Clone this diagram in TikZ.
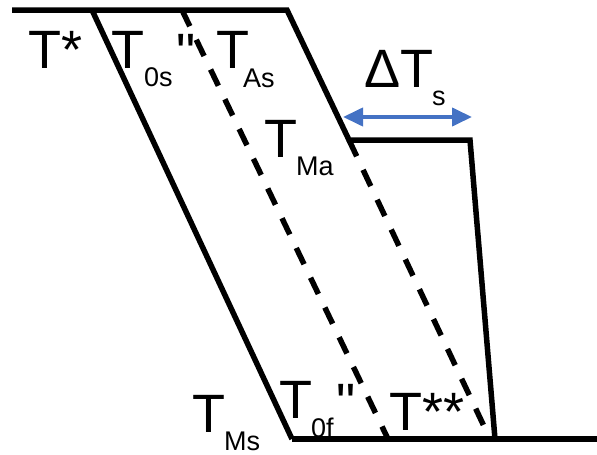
\documentclass[tikz,border=0pt]{standalone}
\usepackage{fontspec}
\setmainfont{Liberation Sans}
\newfontfamily\qfont[Ligatures=TeXOff]{Liberation Sans}
\usetikzlibrary{arrows.meta}
\definecolor{arrblue}{RGB}{68,114,196}
\begin{document}
\begin{tikzpicture}[x=1pt,y=-1pt,
  big/.style={anchor=base west,inner sep=0pt,font=\fontsize{54}{54}\selectfont},
  small/.style={anchor=base west,inner sep=0pt,font=\fontsize{27}{27}\selectfont},
  quote/.style={anchor=base west,inner sep=0pt,font=\qfont\fontsize{54}{54}\selectfont},
  solidline/.style={line width=5.5pt,line join=miter},
  dashline/.style={line width=5.5pt,dash pattern=on 18pt off 15pt}]
\useasboundingbox (0,0) rectangle (597,455);
% labels
\node[big] (tstar) at (28,68) {T*};
\node[big] (t0s) at (111,68) {T};
\node[small] (t0ss) at (144,86) {0s};
\node[quote] (q1) at (176,71) {"};
\node[big] (tas) at (216,68) {T};
\node[small] (tass) at (243,87) {As};
\node[big] (dts) at (364,87) {ΔT};
\node[small] (dtss) at (432,105) {s};
\node[big] (tma) at (264,157) {T};
\node[small] (tmas) at (296,175) {Ma};
\node[big] (tms) at (192,432) {T};
\node[small] (tmss) at (224,450) {Ms};
\node[big] (t0f) at (279,418) {T};
\node[small] (t0fs) at (311,437) {0f};
\node[quote] (q2) at (336,421) {"};
\node[big] (tss) at (389,430) {T**};
% coordinates
\coordinate (A) at (12,10);
\coordinate (B) at (92,10);
\coordinate (C) at (182,10);
\coordinate (D) at (287,10);
\coordinate (E) at (349,140);
\coordinate (F) at (470,140);
\coordinate (G) at (495,439);
\coordinate (H) at (292,439);
\coordinate (I) at (597,439);
\coordinate (J) at (388,439);
\coordinate (K) at (490,439);
\coordinate (L) at (343,117);
\coordinate (M) at (472,117);
% lines
\draw[dashline] (C) -- (J);
\draw[dashline] (E) -- (K);
\draw[solidline] (A) -- (D) -- (E) -- (F) -- (G);
\draw[solidline] (B) -- (H);
\draw[solidline] (H) -- (I);
\draw[arrblue,line width=4pt,{Triangle[length=20pt,width=18pt]}-{Triangle[length=20pt,width=18pt]}] (L) -- (M);
\end{tikzpicture}
\end{document}
